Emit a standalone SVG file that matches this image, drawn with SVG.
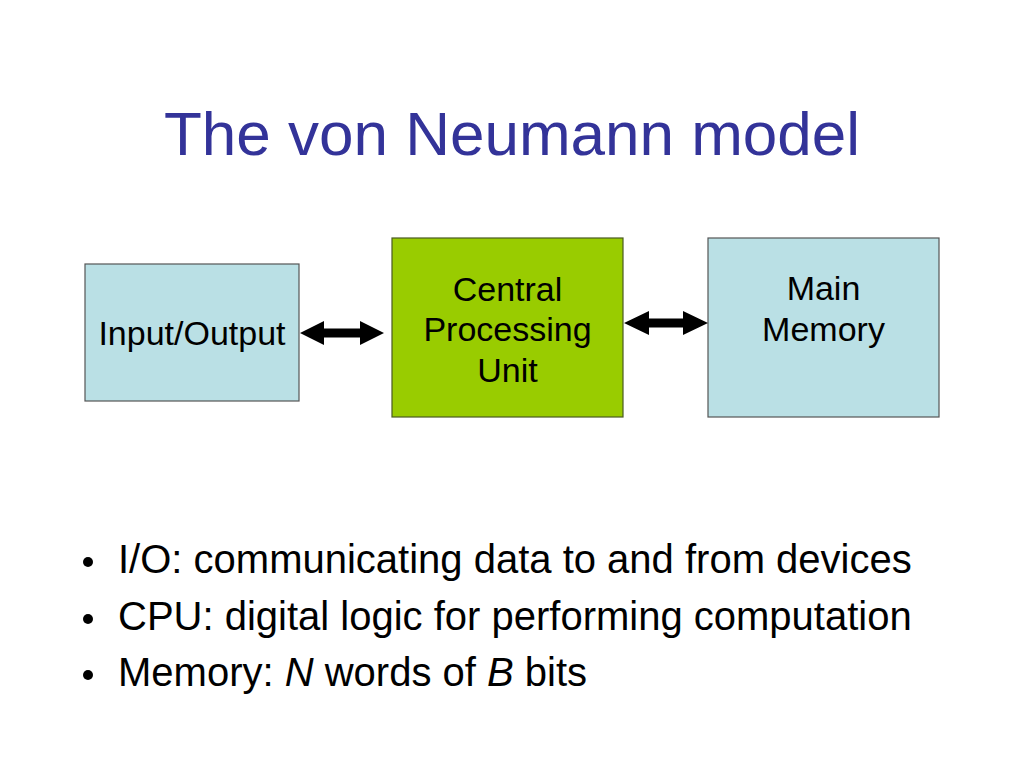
<svg xmlns="http://www.w3.org/2000/svg" width="1024" height="768" viewBox="0 0 1024 768">
<style>
text{font-family:"Liberation Sans",Arial,sans-serif;fill:#000}
.title{font-size:62px;fill:#333399}
.box{font-size:34px;text-anchor:middle}
.bul{font-size:40px}
.blue{fill:#bae0e5;stroke:#555;stroke-width:1.2}
.green{fill:#99cc00;stroke:#4a5a20;stroke-width:1.2}
.arrow{fill:#000}
</style>
<rect width="1024" height="768" fill="#fff"/>
<text class="title" x="512" y="155" text-anchor="middle">The von Neumann model</text>
<g id="io">
<rect class="blue" x="85" y="264" width="214" height="137"/>
<text class="box" x="192" y="345">Input/Output</text>
</g>
<g id="cpu">
<rect class="green" x="392" y="238" width="231" height="179"/>
<text class="box" x="507.5" y="301">Central</text>
<text class="box" x="507.5" y="341">Processing</text>
<text class="box" x="507.5" y="382">Unit</text>
</g>
<g id="memory">
<rect class="blue" x="708" y="238" width="231" height="179"/>
<text class="box" x="823.5" y="300">Main</text>
<text class="box" x="823.5" y="341">Memory</text>
</g>
<g id="connectors">
<polygon class="arrow" points="300,333 324,321 324,328.5 360,328.5 360,321 384,333 360,345 360,337.5 324,337.5 324,345"/>
<polygon class="arrow" points="624,323 649,311 649,318.5 683,318.5 683,311 708,323 683,335 683,327.5 649,327.5 649,335"/>
</g>
<g id="bullets">
<circle cx="88" cy="562" r="5"/>
<circle cx="88" cy="619" r="5"/>
<circle cx="88" cy="675" r="5"/>
<text class="bul" x="118" y="573">I/O: communicating data to and from devices</text>
<text class="bul" x="118" y="630">CPU: digital logic for performing computation</text>
<text class="bul" x="118" y="686">Memory: <tspan font-style="italic">N</tspan> words of <tspan font-style="italic">B</tspan> bits</text>
</g>
</svg>
